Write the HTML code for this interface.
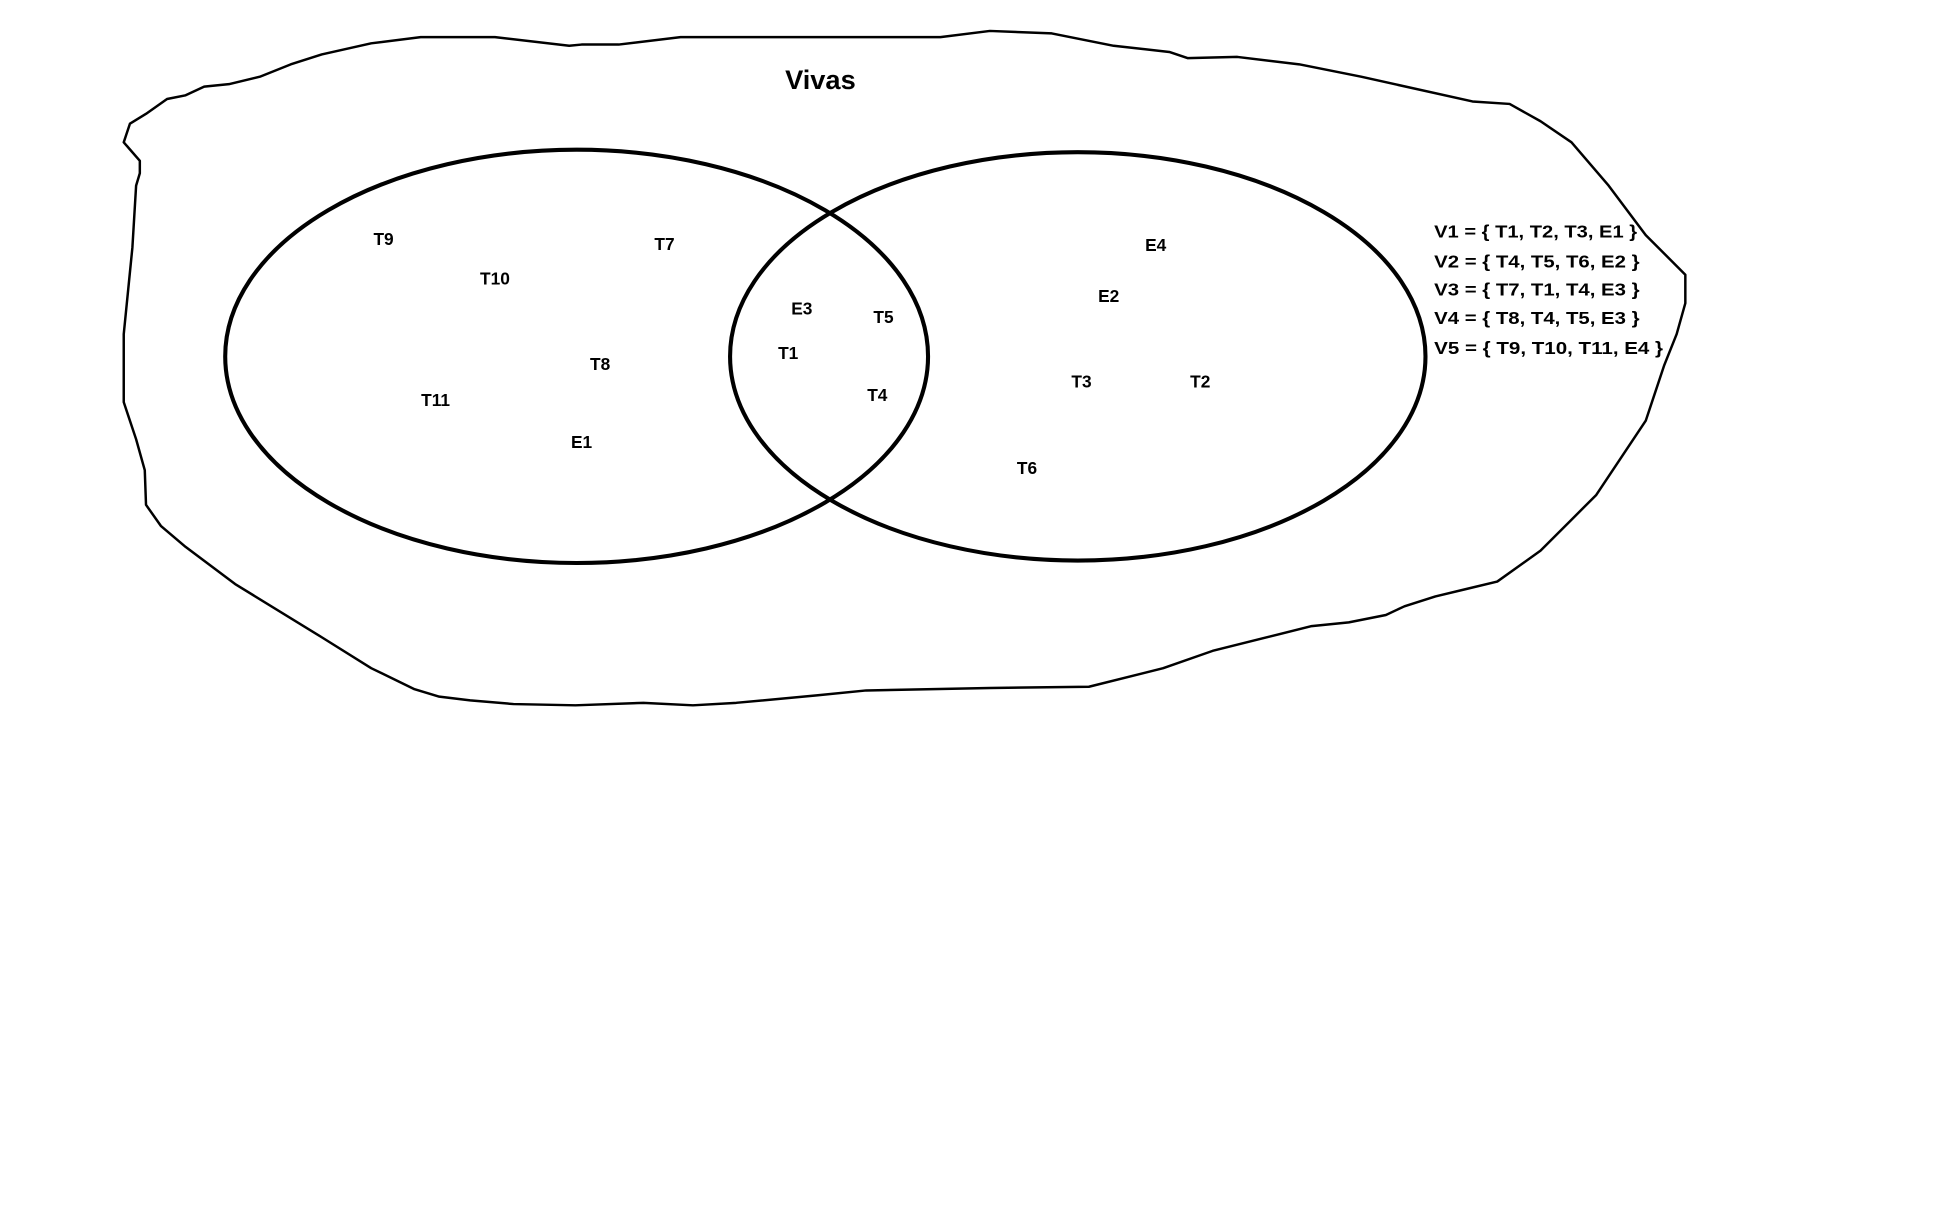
<!DOCTYPE html>
<html><head><meta charset="utf-8"><style>
html,body{margin:0;padding:0;background:#fff;width:1939px;height:1225px;overflow:hidden}
svg{display:block}
text{font-family:"Liberation Sans",sans-serif;font-weight:bold;fill:#000}
</style></head><body>
<svg width="1939" height="1225" viewBox="0 0 1567 990" preserveAspectRatio="none" xmlns="http://www.w3.org/2000/svg">
<path fill="none" stroke="#000" stroke-width="2" stroke-linejoin="round" d="M113,130 L100,115 L105,100 L118,92 L135,80 L150,77 L165,70 L185,68 L210,62 L235,52 L260,44 L300,35 L340,30 L400,30 L460,37 L470,36 L500,36 L550,30 L760,30 L800,25 L850,27 L900,37 L945,42 L960,47 L1000,46 L1050,52 L1100,62 L1190,82 L1220,84 L1245,98 L1270,115 L1300,150 L1330,190 L1362,222 L1362,245 L1355,270 L1345,295 L1330,340 L1310,370 L1290,400 L1270,420 L1245,445 L1210,470 L1185,476 L1160,482 L1135,490 L1120,497 L1090,503 L1060,506 L1020,516 L980,526 L940,540 L880,555 L800,556 L700,558 L660,562 L595,568 L560,570 L520,568 L465,570 L415,569 L380,566 L355,563 L335,557 L300,540 L260,515 L190,472 L150,442 L130,425 L118,408 L117,380 L110,355 L100,325 L100,270 L103,240 L107,200 L110,150 L113,140 Z"/>
<ellipse cx="466" cy="288" rx="284" ry="167" fill="none" stroke="#000" stroke-width="3.3"/>
<ellipse cx="871" cy="288" rx="281" ry="165" fill="none" stroke="#000" stroke-width="3.3"/>
<text x="663" y="72" font-size="22" text-anchor="middle">Vivas</text>
<g font-size="14" text-anchor="middle">
<text x="310" y="198">T9</text>
<text x="400" y="230">T10</text>
<text x="537" y="202">T7</text>
<text x="485" y="299">T8</text>
<text x="352" y="328">T11</text>
<text x="470" y="362">E1</text>
<text x="648" y="254">E3</text>
<text x="714" y="261">T5</text>
<text x="637" y="290">T1</text>
<text x="709" y="324">T4</text>
<text x="934" y="203">E4</text>
<text x="896" y="244">E2</text>
<text x="874" y="313">T3</text>
<text x="970" y="313">T2</text>
<text x="830" y="383">T6</text>
</g>
<g font-size="14">
<text x="1159" y="192" textLength="164" lengthAdjust="spacingAndGlyphs">V1 = { T1, T2, T3, E1 }</text>
<text x="1159" y="216" textLength="166" lengthAdjust="spacingAndGlyphs">V2 = { T4, T5, T6, E2 }</text>
<text x="1159" y="239" textLength="166" lengthAdjust="spacingAndGlyphs">V3 = { T7, T1, T4, E3 }</text>
<text x="1159" y="262" textLength="166" lengthAdjust="spacingAndGlyphs">V4 = { T8, T4, T5, E3 }</text>
<text x="1159" y="286" textLength="185" lengthAdjust="spacingAndGlyphs">V5 = { T9, T10, T11, E4 }</text>
</g>
</svg>
</body></html>
